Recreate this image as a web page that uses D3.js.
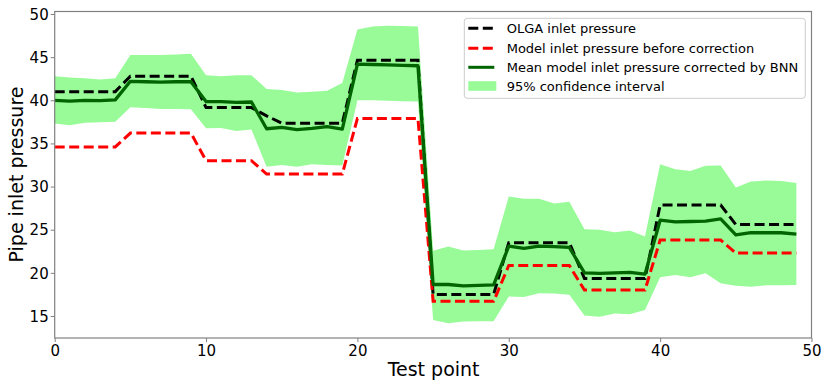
<!DOCTYPE html>
<html>
<head>
<meta charset="utf-8">
<script src="https://cdnjs.cloudflare.com/ajax/libs/d3/7.8.5/d3.min.js"></script>
<style>
  body { margin: 0; background: #fff; }
  svg { font-family: "DejaVu Sans", sans-serif; }
</style>
</head>
<body>
<div id="container"></div>
<script>
// test points 0..49
var testPoints = d3.range(0, 50);

// OLGA inlet pressure (black dashed)
var olgaPressure = [
  41.0, 41.0, 41.0, 41.0, 41.0,
  42.8, 42.8, 42.8, 42.8, 42.8,
  39.15, 39.15, 39.15, 39.15, 38.2,
  37.35, 37.35, 37.35, 37.35, 37.35,
  44.65, 44.65, 44.65, 44.65, 44.65,
  17.5, 17.5, 17.5, 17.5, 17.5,
  23.5, 23.5, 23.5, 23.5, 23.5,
  19.35, 19.35, 19.35, 19.35, 19.35,
  27.85, 27.85, 27.85, 27.85, 27.85,
  25.6, 25.6, 25.6, 25.6, 25.6
];

// model inlet pressure before correction (red dashed)
var modelPressure = [
  34.6, 34.6, 34.6, 34.6, 34.6,
  36.2, 36.2, 36.2, 36.2, 36.2,
  33.0, 33.0, 33.0, 33.0, 31.45,
  31.45, 31.45, 31.45, 31.45, 31.45,
  37.9, 37.9, 37.9, 37.9, 37.9,
  16.7, 16.7, 16.7, 16.7, 16.7,
  20.85, 20.85, 20.85, 20.85, 20.85,
  18.0, 18.0, 18.0, 18.0, 18.0,
  23.8, 23.8, 23.8, 23.8, 23.8,
  22.3, 22.3, 22.3, 22.3, 22.3
];

// mean corrected by BNN (dark green)
var meanPressure = [
  40.0, 39.9, 40.0, 39.95, 40.05,
  42.2, 42.15, 42.1, 42.15, 42.15,
  39.85, 39.85, 39.75, 39.8, 36.7,
  36.85, 36.6, 36.75, 36.95, 36.65,
  44.2, 44.15, 44.1, 44.05, 44.0,
  18.65, 18.65, 18.5, 18.55, 18.6,
  23.1, 22.85, 23.1, 23.05, 22.95,
  20.0, 19.95, 20.0, 20.05, 19.85,
  26.1, 25.9, 25.95, 26.0, 26.25,
  24.4, 24.65, 24.65, 24.65, 24.5
];

// 95% confidence interval bounds
var upperBound = [
  42.8, 42.65, 42.55, 42.4, 42.55,
  45.25, 45.25, 45.25, 45.3, 45.4,
  42.9, 42.8, 42.9, 42.9, 41.3,
  41.2, 40.9, 41.0, 41.1, 42.0,
  48.2, 48.55, 48.65, 48.6, 48.55,
  22.55, 23.05, 22.6, 22.65, 22.75,
  28.85, 28.6, 28.6, 28.05, 28.25,
  25.05, 25.0, 24.7, 24.9, 24.2,
  32.6, 32.0, 31.8, 32.4, 32.45,
  29.9, 30.6, 30.7, 30.65, 30.4
];
var lowerBound = [
  37.3, 37.1, 37.4, 37.45, 37.5,
  39.2, 39.1, 39.0, 39.0, 38.95,
  36.75, 36.8, 36.45, 36.6, 32.3,
  32.5, 32.3, 32.6, 32.5, 32.45,
  40.0, 40.0, 39.95, 39.9, 39.85,
  14.55, 14.15, 14.35, 14.4, 14.4,
  17.25, 17.2, 17.65, 17.6, 17.45,
  15.05, 14.9, 15.3, 15.2, 15.7,
  19.5, 19.75, 19.5, 19.95, 18.8,
  18.5, 18.4, 18.55, 18.55, 18.6
];

var xTicks = [0, 10, 20, 30, 40, 50];
var yTicks = [15, 20, 25, 30, 35, 40, 45, 50];

var legendLabels = [
  "OLGA inlet pressure",
  "Model inlet pressure before correction",
  "Mean model inlet pressure corrected by BNN",
  "95% confidence interval"
];

var width = 830, height = 388;
var plot = { left: 54.7, right: 811.5, top: 11.5, bottom: 338 };

var svg = d3.select("#container")
  .append("svg")
  .attr("width", width)
  .attr("height", height);

var x = d3.scaleLinear().domain([0, 50]).range([plot.left, plot.right]);
var y = d3.scaleLinear().domain([12.45, 50.29]).range([plot.bottom, plot.top]);

// confidence band
var band = d3.area()
  .x(function(d) { return x(d); })
  .y0(function(d, i) { return y(lowerBound[i]); })
  .y1(function(d, i) { return y(upperBound[i]); });

svg.append("path")
  .datum(testPoints)
  .attr("d", band)
  .attr("fill", "#98fb98");

function lineFor(values) {
  return d3.line()
    .x(function(d) { return x(d); })
    .y(function(d, i) { return y(values[i]); });
}

svg.append("path")
  .datum(testPoints)
  .attr("d", lineFor(olgaPressure))
  .attr("fill", "none")
  .attr("stroke", "#000")
  .attr("stroke-width", 3)
  .attr("stroke-dasharray", "10,4.5");

svg.append("path")
  .datum(testPoints)
  .attr("d", lineFor(modelPressure))
  .attr("fill", "none")
  .attr("stroke", "#ff0000")
  .attr("stroke-width", 3)
  .attr("stroke-dasharray", "10,4.5");

svg.append("path")
  .datum(testPoints)
  .attr("d", lineFor(meanPressure))
  .attr("fill", "none")
  .attr("stroke", "#006400")
  .attr("stroke-width", 3.3)
  .attr("stroke-linejoin", "round");

// axes
var xAxis = svg.append("g")
  .attr("transform", "translate(0," + plot.bottom + ")")
  .call(d3.axisBottom(x).tickValues(xTicks).tickSize(4).tickPadding(3));
var yAxis = svg.append("g")
  .attr("transform", "translate(" + plot.left + ",0)")
  .call(d3.axisLeft(y).tickValues(yTicks).tickSize(4).tickPadding(2));

[xAxis, yAxis].forEach(function(g) {
  g.select(".domain").remove();
  g.selectAll(".tick line").attr("stroke", "#808080");
  g.selectAll(".tick text")
    .attr("fill", "#000")
    .style("font-size", "15px")
    .style("font-family", "DejaVu Sans");
});
yAxis.selectAll(".tick text").attr("dy", "0.35em");

// frame (spines)
svg.append("rect")
  .attr("x", plot.left)
  .attr("y", plot.top)
  .attr("width", plot.right - plot.left)
  .attr("height", plot.bottom - plot.top)
  .attr("fill", "none")
  .attr("stroke", "#808080")
  .attr("stroke-width", 1.2);

// axis labels
svg.append("text")
  .attr("x", (plot.left + plot.right) / 2 + 0.5)
  .attr("y", 376)
  .attr("text-anchor", "middle")
  .style("font-size", "19px")
  .text("Test point");

svg.append("text")
  .attr("transform", "translate(23," + 174.5 + ") rotate(-90)")
  .attr("text-anchor", "middle")
  .style("font-size", "19px")
  .text("Pipe inlet pressure");

// legend
var legend = svg.append("g").attr("transform", "translate(464.3,18.3)");
legend.append("rect")
  .attr("width", 341)
  .attr("height", 80)
  .attr("rx", 3)
  .attr("fill", "#fff")
  .attr("fill-opacity", 0.8)
  .attr("stroke", "#cccccc");

var rowY = [10, 30, 49, 67.7];
var handles = [
  { stroke: "#000", dash: "10,4.5" },
  { stroke: "#ff0000", dash: "10,4.5" },
  { stroke: "#006400", dash: null },
  { fill: "#98fb98" }
];

handles.forEach(function(h, i) {
  if (h.fill) {
    legend.append("rect")
      .attr("x", 4).attr("y", rowY[i] - 4.8)
      .attr("width", 28).attr("height", 9.6)
      .attr("fill", h.fill);
  } else {
    legend.append("line")
      .attr("x1", 4).attr("x2", 30)
      .attr("y1", rowY[i]).attr("y2", rowY[i])
      .attr("stroke", h.stroke)
      .attr("stroke-width", 3)
      .attr("stroke-dasharray", h.dash);
  }
  legend.append("text")
    .attr("x", 42.4)
    .attr("y", rowY[i])
    .attr("dy", "0.35em")
    .style("font-size", "13px")
    .text(legendLabels[i]);
});
</script>
</body>
</html>
